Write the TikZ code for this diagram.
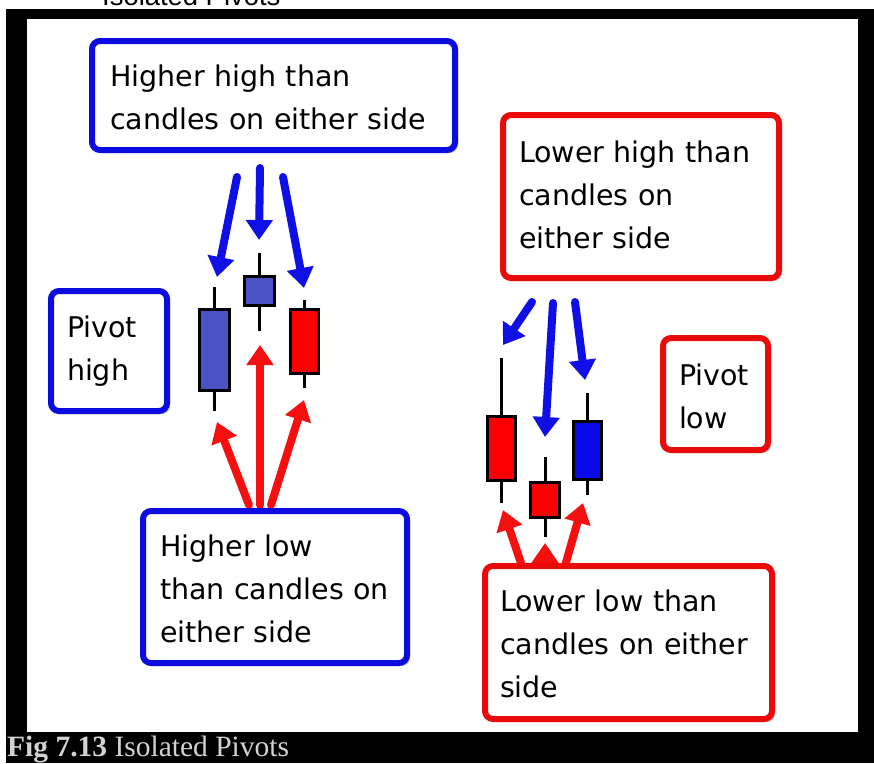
\documentclass[tikz,border=0pt]{standalone}
\usepackage{fontspec}
\setmainfont{Liberation Serif}
\newfontfamily\boxfont{DejaVu Sans}
\newfontfamily\topfont{Liberation Sans}
\usetikzlibrary{arrows.meta,shadows}
\definecolor{bblue}{RGB}{12,12,225}
\definecolor{bred}{RGB}{235,10,10}
\definecolor{cblue}{RGB}{74,82,196}
\definecolor{cred}{RGB}{250,0,0}
\definecolor{cblue2}{RGB}{10,10,235}
\definecolor{arrblue}{RGB}{15,15,230}
\definecolor{arrred}{RGB}{245,15,15}
\definecolor{capgray}{RGB}{210,210,210}
\begin{document}
\begin{tikzpicture}[x=1pt,y=-1pt,
  callout/.style={rectangle, rounded corners=8pt, line width=6pt, fill=white,
     drop shadow={shadow xshift=3pt, shadow yshift=-3pt, fill=black!70, opacity=0.35},
     inner ysep=0pt, align=left, text height=25pt,
     font=\boxfont\fontsize{28.5}{43}\selectfont},
  bluebox/.style={callout, draw=bblue},
  redbox/.style={callout, draw=bred},
  body/.style={rectangle, draw=black, line width=3pt, inner sep=0pt},
  wick/.style={draw=black, line width=3pt},
  barrow/.style={draw=arrblue, line width=8pt, line cap=round,
     -{Triangle[width=26pt,length=20pt,fill=arrblue]}},
  rarrow/.style={draw=arrred, line width=8pt, line cap=round,
     -{Triangle[width=26pt,length=20pt,fill=arrred]}}
]
\useasboundingbox (0,0) rectangle (874,763);
\fill[white] (0,0) rectangle (874,763);
\fill[black] (6,9) rectangle (874,763);
\fill[white] (27,19) rectangle (858,732);
\begin{scope}
\clip (0,0) rectangle (874,763);
\node[anchor=base west, inner sep=0pt, font=\topfont\fontsize{27.4}{30}\selectfont] (toptitle) at (102,5) {Isolated Pivots};
\end{scope}
\node[anchor=base west, inner sep=0pt, text=capgray, font=\fontsize{29.5}{32}\selectfont] (caption) at (7,756) {\textbf{Fig 7.13} Isolated Pivots};

% arrow end points
\coordinate (a1s) at (237,177); \coordinate (a1e) at (217,277);
\coordinate (a2s) at (260,168); \coordinate (a2e) at (259,240);
\coordinate (a3s) at (283,177); \coordinate (a3e) at (304,288);
\coordinate (a4s) at (249,505); \coordinate (a4e) at (217,422);
\coordinate (a5s) at (260,505); \coordinate (a5e) at (260,345);
\coordinate (a6s) at (271,505); \coordinate (a6e) at (304,400);
\coordinate (b1s) at (532,302); \coordinate (b1e) at (503,345);
\coordinate (b2s) at (553,303); \coordinate (b2e) at (545,437);
\coordinate (b3s) at (575,302); \coordinate (b3e) at (585,380);
\coordinate (b4s) at (522,566); \coordinate (b4e) at (503,510);
\coordinate (b5s) at (545,570); \coordinate (b5e) at (545,543);
\coordinate (b6s) at (565,566); \coordinate (b6e) at (583,503);

\draw[barrow] (a1s) -- (a1e);
\draw[barrow] (a2s) -- (a2e);
\draw[barrow] (a3s) -- (a3e);
\draw[rarrow] (a4s) -- (a4e);
\draw[rarrow] (a5s) -- (a5e);
\draw[rarrow] (a6s) -- (a6e);
\draw[barrow] (b1s) -- (b1e);
\draw[barrow] (b2s) -- (b2e);
\draw[barrow] (b3s) -- (b3e);
\draw[rarrow] (b4s) -- (b4e);
\draw[rarrow] (b5s) -- (b5e);
\draw[rarrow] (b6s) -- (b6e);

% callout boxes
\node[bluebox, text width=327pt, inner xsep=18pt, minimum height=109pt, text depth=44pt] (hh) at (273.5,95.5) {Higher high than\\candles on either side};
\node[redbox, text width=244pt, inner xsep=16pt, minimum height=163pt, text depth=94pt] (lh) at (641,196.5) {Lower high than\\candles on\\either side};
\node[bluebox, text width=84pt, inner xsep=16pt, minimum height=120pt, text depth=53pt] (ph) at (109,351) {Pivot\\high};
\node[redbox, text width=73pt, inner xsep=16pt, minimum height=112pt, text depth=43pt] (pl) at (715.5,394) {Pivot\\low};
\node[bluebox, text width=230pt, inner xsep=17pt, minimum height=152pt, text depth=87pt] (hl) at (275,587) {Higher low\\than candles on\\either side};
\node[redbox, text width=257pt, inner xsep=15pt, minimum height=153pt, text depth=88pt] (ll) at (628.5,642.5) {Lower low than\\candles on either\\side};

% candles left
\draw[wick] (214.5,287) -- (214.5,411);
\node[body, fill=cblue, minimum width=30pt, minimum height=81pt] (L1) at (214.5,350) {};
\draw[wick] (259.5,253) -- (259.5,331);
\node[body, fill=cblue, minimum width=30pt, minimum height=29pt] (L2) at (259.5,291) {};
\draw[wick] (304.5,300) -- (304.5,388);
\node[body, fill=cred, minimum width=28pt, minimum height=64pt] (L3) at (304.5,341.5) {};
% candles right
\draw[wick] (501.5,358) -- (501.5,503);
\node[body, fill=cred, minimum width=28pt, minimum height=64pt] (R1) at (501.5,448.5) {};
\draw[wick] (545,457) -- (545,537);
\node[body, fill=cred, minimum width=29pt, minimum height=35pt] (R2) at (545,500) {};
\draw[wick] (587.5,393) -- (587.5,495);
\node[body, fill=cblue2, minimum width=28pt, minimum height=58pt] (R3) at (587.5,450.5) {};
\end{tikzpicture}
\end{document}
